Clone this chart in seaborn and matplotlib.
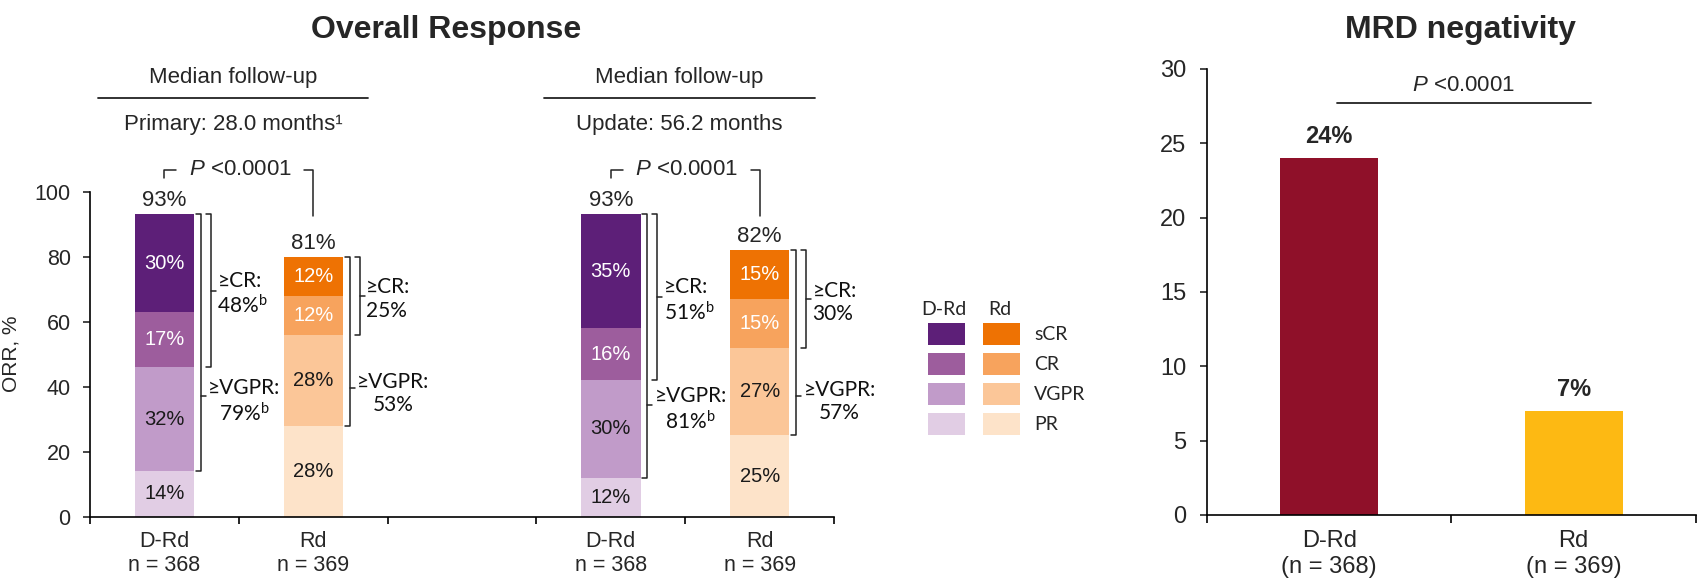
import numpy as np
import pandas as pd
import matplotlib
matplotlib.use("Agg")
import matplotlib.pyplot as plt
import seaborn as sns
from matplotlib.patches import Rectangle

sns.set_style("white")
plt.rcParams['font.family'] = ['Liberation Sans', 'DejaVu Sans']
plt.rcParams['mathtext.fontset'] = 'custom'
plt.rcParams['mathtext.rm'] = 'Lato'
plt.rcParams['mathtext.it'] = 'Liberation Sans:italic'

# ---- data ----
arms = ["D-Rd", "Rd", "D-Rd", "Rd"]
positions = [0, 1, 3, 4]
n_labels = ["n = 368", "n = 369", "n = 368", "n = 369"]
levels = ["PR", "VGPR", "CR", "sCR"]
pr = [14, 28, 12, 25]
vgpr = [32, 28, 30, 27]
cr = [17, 12, 16, 15]
scr = [30, 12, 35, 15]
orr = [93, 81, 93, 82]
cr_or_better = ["48%$^{\\rm b}$", "25%", "51%$^{\\rm b}$", "30%"]
vgpr_or_better = ["79%$^{\\rm b}$", "53%", "81%$^{\\rm b}$", "57%"]
followup = ["Primary: 28.0 months¹", "Update: 56.2 months"]
p_text = "<0.0001"

mrd_arms = ["D-Rd", "Rd"]
mrd_n = ["(n = 368)", "(n = 369)"]
mrd_vals = [24, 7]

colors = {
    "D-Rd": {"sCR": "#5d1f78", "CR": "#9d5d9d", "VGPR": "#c19bc9", "PR": "#e1cde4"},
    "Rd": {"sCR": "#ee7203", "CR": "#f7a35d", "VGPR": "#fbc698", "PR": "#fde3c9"},
}
text_on = {"sCR": "white", "CR": "white", "VGPR": "#1a1a1a", "PR": "#1a1a1a"}
mrd_colors = {"D-Rd": "#8f1029", "Rd": "#fdb913"}
side_font = ["Lato", "DejaVu Sans"]

fig = plt.figure(figsize=(17.06, 5.87), dpi=100)
ax = fig.add_axes([0.0528, 0.1198, 0.4361, 0.5536])
ax2 = fig.add_axes([0.7075, 0.1227, 0.2866, 0.7598])

# ---- stacked bars (drawn as cumulative tops, tallest first) ----
df = pd.DataFrame({"pos": positions, "arm": arms,
                   "PR": pr, "VGPR": vgpr, "CR": cr, "sCR": scr})
cum = df[levels].cumsum(axis=1)
for lvl in reversed(levels):
    sns.barplot(x=df["pos"], y=cum[lvl], hue=df["arm"],
                palette={a: colors[a][lvl] for a in colors},
                native_scale=True, width=0.4, dodge=False, legend=False,
                errorbar=None, saturation=1, linewidth=0, ax=ax)

for i, p in enumerate(positions):
    for lvl in levels:
        v = df.loc[i, lvl]
        mid = cum.loc[i, lvl] - v / 2
        ax.text(p, mid, f"{v}%", ha="center", va="center", fontsize=14.5,
                color=text_on[lvl])
    top = cum.loc[i, "sCR"]
    ax.text(p, top + 2.5, f"{orr[i]}%", ha="center", va="baseline", fontsize=16)

# brackets
lw = 1.1
bc = "#222222"
stub = 0.034
vgpr_tick = [37, 39.5, 34.5, 37]
for i, p in enumerate(positions):
    top = cum.loc[i, "sCR"]
    cr_bot = cum.loc[i, "VGPR"]
    vg_bot = cum.loc[i, "PR"]
    xr = p + 0.2
    # >=VGPR bracket (inner)
    xi = xr + 0.045
    ax.plot([xi - stub, xi, xi, xi - stub], [top, top, vg_bot, vg_bot],
            color=bc, lw=lw, clip_on=False)
    ax.plot([xi, xi + stub], [vgpr_tick[i]] * 2, color=bc, lw=lw, clip_on=False)
    ax.text(xi + stub + 0.015, vgpr_tick[i] - 1.5, "≥VGPR:\n" + vgpr_or_better[i],
            ha="left", va="center", multialignment="center", fontsize=15,
            family=side_font, color="#111111", linespacing=1.2)
    # >=CR bracket (outer)
    xo = xr + 0.112
    ax.plot([xo - stub, xo, xo, xo - stub], [top, top, cr_bot, cr_bot],
            color=bc, lw=lw, clip_on=False)
    mid = (top + cr_bot) / 2
    ax.plot([xo, xo + stub], [mid, mid], color=bc, lw=lw, clip_on=False)
    ax.text(xo + stub + 0.01, mid - 1.0, "≥CR:\n" + cr_or_better[i],
            ha="left", va="center", fontsize=15,
            family=side_font, color="#111111", linespacing=1.2)

# P-value brackets and follow-up headers
for k, left in enumerate([0, 3]):
    yh = 106.7
    ax.plot([left, left, left + 0.08], [104.2, yh, yh], color=bc, lw=lw, clip_on=False)
    ax.plot([left + 0.94, left + 1.0, left + 1.0], [yh, yh, 92.5], color=bc, lw=lw,
            clip_on=False)
    ax.text(left + 0.51, yh, "$\\it{P}$ " + p_text, ha="center", va="center",
            fontsize=16)
    hx = left + 0.46
    ax.text(hx, 133.4, "Median follow-up", ha="center", va="baseline", fontsize=16)
    ax.plot([hx - 0.91, hx + 0.91], [128.7, 128.7], color=bc, lw=1.3, clip_on=False)
    ax.text(hx, 119, followup[k], ha="center", va="baseline", fontsize=16)

ax.set_xlim(-0.5, 4.5)
ax.set_ylim(0, 100)
ax.set_yticks(range(0, 101, 20))
ax.set_xticks(positions, labels=[f"{a}\n{n}" for a, n in zip(arms, n_labels)])
ax.set_xticks(np.arange(-0.5, 4.6, 1), minor=True)
ax.tick_params(axis="x", which="major", length=0, pad=10, labelsize=15.5)
ax.tick_params(axis="x", which="minor", length=5, width=1.2, direction="out",
               bottom=True, color="black")
ax.tick_params(axis="y", length=5, width=1.2, direction="out", left=True, pad=9,
               labelsize=15.5)
ax.set_xlabel("")
ax.set_ylabel("ORR, %", fontsize=15)
ax.yaxis.set_label_coords(-0.094, 0.5)
for s in ["top", "right"]:
    ax.spines[s].set_visible(False)
for s in ["left", "bottom"]:
    ax.spines[s].set_linewidth(1.2)
    ax.spines[s].set_color("black")

# ---- legend ----
lax = fig.add_axes([900 / 1706, 1 - 450 / 587, 200 / 1706, 160 / 587])
lax.set_xlim(900, 1100)
lax.set_ylim(450, 290)
lax.axis("off")
lax.text(944, 309, "D-Rd", ha="center", va="center", fontsize=14, family=side_font)
lax.text(1000, 309, "Rd", ha="center", va="center", fontsize=14, family=side_font)
for r, lvl in enumerate(reversed(levels)):
    y0 = 323 + r * 30
    lax.add_patch(Rectangle((928, y0), 37, 22, color=colors["D-Rd"][lvl], lw=0))
    lax.add_patch(Rectangle((983, y0), 37, 22, color=colors["Rd"][lvl], lw=0))
    lax.text(1034, y0 + 11, lvl, ha="left", va="center", fontsize=14,
             family=side_font)

# ---- MRD negativity ----
sns.barplot(x=mrd_arms, y=mrd_vals, hue=mrd_arms, palette=mrd_colors,
            width=0.4, legend=False, errorbar=None, saturation=1, linewidth=0,
            ax=ax2)
for i, v in enumerate(mrd_vals):
    ax2.text(i, v + 1.0, f"{v}%", ha="center", va="baseline", fontsize=17,
             fontweight="bold")
ax2.plot([0.033, 1.07], [27.7, 27.7], color=bc, lw=1.3, clip_on=False)
ax2.text(0.55, 28.9, "$\\it{P}$ " + p_text, ha="center", va="center", fontsize=16)
ax2.set_xlim(-0.5, 1.5)
ax2.set_ylim(0, 30)
ax2.set_yticks(range(0, 31, 5))
ax2.set_xticks([0, 1], labels=[f"{a}\n{n}" for a, n in zip(mrd_arms, mrd_n)])
ax2.set_xticks([-0.5, 0.5, 1.5], minor=True)
ax2.tick_params(axis="x", which="major", length=0, pad=11, labelsize=17)
ax2.tick_params(axis="x", which="minor", length=6, width=1.2, direction="out",
                bottom=True, color="black")
ax2.tick_params(axis="y", length=5, width=1.2, direction="out", left=True, pad=10,
                labelsize=17)
ax2.set_xlabel("")
ax2.set_ylabel("")
for s in ["top", "right"]:
    ax2.spines[s].set_visible(False)
for s in ["left", "bottom"]:
    ax2.spines[s].set_linewidth(1.2)
    ax2.spines[s].set_color("black")

# ---- titles ----
fig.text(446 / 1706, 1 - 38 / 587, "Overall Response", ha="center", va="baseline",
         fontsize=23, fontweight="bold")
fig.text(1460 / 1706, 1 - 38 / 587, "MRD negativity", ha="center", va="baseline",
         fontsize=23, fontweight="bold")

fig.savefig("out.png", dpi=100)
